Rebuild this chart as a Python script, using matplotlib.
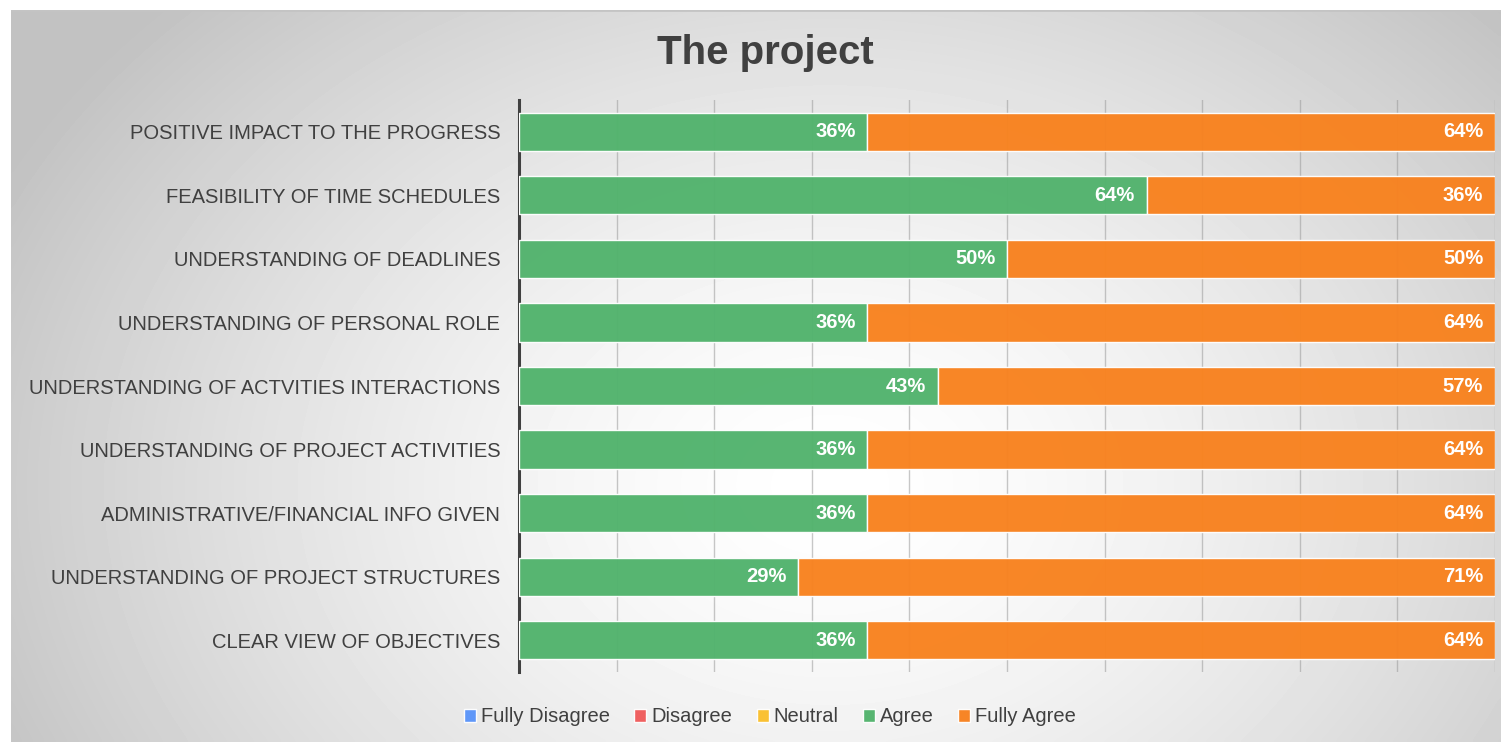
import numpy as np
import matplotlib.pyplot as plt

plt.rcParams['font.family'] = ['Liberation Sans', 'DejaVu Sans']

# data (share of respondents, %), listed bottom to top
questions = ['CLEAR VIEW OF OBJECTIVES',
             'UNDERSTANDING OF PROJECT STRUCTURES',
             'ADMINISTRATIVE/FINANCIAL INFO GIVEN',
             'UNDERSTANDING OF PROJECT ACTIVITIES',
             'UNDERSTANDING OF ACTVITIES INTERACTIONS',
             'UNDERSTANDING OF PERSONAL ROLE',
             'UNDERSTANDING OF DEADLINES',
             'FEASIBILITY OF TIME SCHEDULES',
             'POSITIVE IMPACT TO THE PROGRESS']
fully_disagree = [0, 0, 0, 0, 0, 0, 0, 0, 0]
disagree = [0, 0, 0, 0, 0, 0, 0, 0, 0]
neutral = [0, 0, 0, 0, 0, 0, 0, 0, 0]
agree = [35.7, 28.6, 35.7, 35.7, 42.9, 35.7, 50.0, 64.3, 35.7]
fully_agree = [64.3, 71.4, 64.3, 64.3, 57.1, 64.3, 50.0, 35.7, 64.3]

series = [('Fully Disagree', fully_disagree, '#5b95f9'),
          ('Disagree', disagree, '#ef5b5b'),
          ('Neutral', neutral, '#fbc02d'),
          ('Agree', agree, '#52b36d'),
          ('Fully Agree', fully_agree, '#f8821f')]

W, H = 1501, 742
fig = plt.figure(figsize=(W / 100, H / 100), dpi=100, facecolor='white')

# radial gradient background of the chart frame
bg = fig.add_axes([11 / W, 0, (W - 11) / W, (H - 10) / H], zorder=-10)
gx, gy = np.meshgrid(np.linspace(0, 1, 400), np.linspace(0, 1, 200))
r = np.sqrt(((gx - 0.55) / 0.62) ** 2 + ((gy - 0.65) / 0.95) ** 2)
r = np.clip(r, 0, 1) ** 1.5
shade = 1.0 - r * (1.0 - 0.76)
bg.imshow(shade, cmap='gray', vmin=0, vmax=1, aspect='auto',
          extent=[0, 1, 0, 1], origin='upper', interpolation='bicubic')
bg.plot([0, 1], [1, 1], color='#c4c4c4', lw=2, transform=bg.transAxes)
bg.set_axis_off()

ax = fig.add_axes([519 / W, 1 - 672 / H, (1495 - 519) / W, (672 - 100) / H])
ax.set_facecolor('none')

y = np.arange(len(questions))
left = np.zeros(len(questions))
handles = []
for name, vals, color in series:
    vals = np.array(vals, dtype=float)
    bars = ax.barh(y, vals, left=left, height=0.6, color=color,
                   edgecolor=(1, 1, 1, 0.5), linewidth=1, alpha=0.97,
                   label=name, zorder=3)
    handles.append(bars)
    for yi, v, l in zip(y, vals, left):
        if v > 0:
            ax.annotate(f'{v:.0f}%', xy=(l + v, yi), xytext=(-8.5, 0),
                        textcoords='offset points', ha='right', va='center',
                        color='white', fontsize=14.5, fontweight='bold', zorder=4)
    left = left + vals

ax.set_xlim(0, 100)
ax.set_ylim(-0.5, len(questions) - 0.5)
ax.set_xticks(np.arange(0, 101, 10))
ax.set_xticklabels([])
ax.tick_params(axis='x', length=0)
ax.tick_params(axis='y', length=0, pad=13.5, labelsize=14.5, labelcolor='#404040')
ax.set_yticks(y)
ax.set_yticklabels(questions)
ax.grid(axis='x', color='#9a9a9a', alpha=0.55, linewidth=1, zorder=1)
ax.set_axisbelow(True)
for side in ['top', 'right', 'bottom']:
    ax.spines[side].set_visible(False)
ax.spines['left'].set_color('#404040')
ax.spines['left'].set_linewidth(2.2)

fig.text(0.51, 1 - 53 / H, 'The project', ha='center', va='center',
         fontsize=29, fontweight='bold', color='#404040')

fig.legend(handles=handles, loc='center', bbox_to_anchor=(0.513, 1 - 717 / H),
           ncol=5, frameon=False, fontsize=14.5, labelcolor='#404040',
           handlelength=0.6, handleheight=0.6, handletextpad=0.25,
           columnspacing=1.2)

fig.savefig('out.png', dpi=100, facecolor='white')
